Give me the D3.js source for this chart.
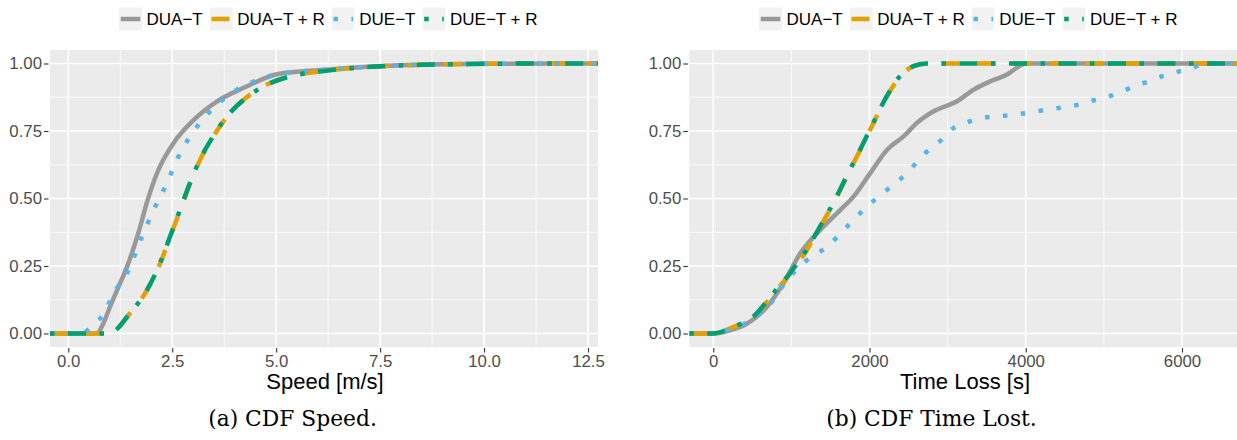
<!DOCTYPE html>
<html>
<head>
<meta charset="utf-8">
<script src="https://cdn.jsdelivr.net/npm/d3@7"></script>
<style>
  html, body { margin: 0; padding: 0; background: #ffffff; }
  svg { display: block; }
</style>
</head>
<body>
<svg id="chart" width="1237" height="440"></svg>
<script>
// ---------------- data ----------------
const seriesNames = ["DUA\u2212T", "DUA\u2212T + R", "DUE\u2212T", "DUE\u2212T + R"];
const yTickValues = [0, 0.25, 0.5, 0.75, 1];
const yTickLabels = ["0.00", "0.25", "0.50", "0.75", "1.00"];
const speedTickValues = [0, 2.5, 5, 7.5, 10, 12.5];
const speedTickLabels = ["0.0", "2.5", "5.0", "7.5", "10.0", "12.5"];
const timeTickValues = [0, 2000, 4000, 6000];
const timeTickLabels = ["0", "2000", "4000", "6000"];

// CDF of speed [m/s]: [value, cumulative fraction]
const speedDUAT = [[0.68,0],[0.84,0.036],[1.0,0.098],[1.2,0.17],[1.41,0.246],[1.7,0.38],[1.9,0.49],[2.15,0.6],[2.53,0.705],[3.01,0.79],[3.58,0.86],[4.22,0.91],[5.02,0.96],[6.0,0.975],[7.5,0.99],[9.0,0.997],[10.5,0.999],[12.16,1]];
const speedDUATR = [[1.02,0],[1.2,0.02],[1.41,0.061],[1.89,0.16],[2.21,0.26],[2.45,0.358],[2.69,0.457],[2.93,0.556],[3.17,0.643],[3.49,0.73],[3.82,0.804],[4.22,0.866],[4.70,0.916],[5.34,0.953],[6.07,0.971],[7.51,0.99],[8.8,0.996],[10.0,0.999],[12.1,1]];
const speedDUET = [[0.36,0],[0.45,0.01],[0.68,0.042],[0.88,0.079],[1.08,0.147],[1.41,0.222],[1.77,0.358],[2.05,0.457],[2.37,0.556],[2.61,0.643],[2.93,0.73],[3.33,0.81],[3.82,0.879],[4.38,0.928],[5.02,0.96],[6.0,0.975],[7.5,0.99],[9.0,0.997],[10.5,0.999],[12.0,1]];
const speedDUETR = [[1.0,0],[1.18,0.018],[1.42,0.063],[1.88,0.158],[2.2,0.258],[2.44,0.356],[2.68,0.455],[2.92,0.555],[3.16,0.642],[3.48,0.729],[3.81,0.803],[4.21,0.865],[4.69,0.915],[5.33,0.952],[6.05,0.97],[7.5,0.99],[8.8,0.996],[10.0,0.999],[12.05,1]];

// CDF of time loss [s]
const timeDUAT = [[0,0],[256,0.015],[428,0.036],[684,0.098],[897,0.185],[1111,0.296],[1368,0.383],[1624,0.457],[1795,0.507],[2009,0.594],[2223,0.68],[2436,0.73],[2607,0.78],[2821,0.823],[3120,0.86],[3333,0.903],[3547,0.934],[3761,0.959],[3953,0.996],[4000,1]];
const timeDUATR = [[0,0],[256,0.024],[513,0.061],[769,0.147],[983,0.222],[1197,0.309],[1368,0.395],[1538,0.482],[1709,0.581],[1881,0.68],[2051,0.78],[2223,0.878],[2394,0.953],[2564,0.99],[2736,1]];
const timeDUET = [[0,0],[171,0.012],[470,0.048],[727,0.11],[941,0.197],[1197,0.271],[1454,0.321],[1710,0.395],[1967,0.47],[2223,0.532],[2479,0.594],[2692,0.662],[2949,0.725],[3077,0.761],[3249,0.782],[3419,0.798],[3633,0.804],[3846,0.81],[4060,0.819],[4274,0.829],[4487,0.838],[4679,0.848],[4872,0.864],[5064,0.878],[5235,0.897],[5406,0.918],[5577,0.934],[5749,0.953],[5941,0.969],[6133,0.984],[6304,1]];
const timeDUETR = [[0,0],[250,0.024],[510,0.062],[765,0.148],[980,0.223],[1195,0.31],[1366,0.396],[1536,0.483],[1707,0.582],[1879,0.681],[2049,0.781],[2221,0.879],[2392,0.954],[2562,0.99],[2730,1]];

// ---------------- drawing ----------------
const colors = ["#999999", "#E69F00", "#56B4E9", "#009E73"];
const LW = 4.5;
const dashes = [null, [4,4], [1,3], [1,3,4,3]].map(p => p ? p.map(v => v * LW).join(",") : null);

const svg = d3.select("#chart");
const FONT = "'Liberation Sans', Arial, Helvetica, sans-serif";

function drawPanel(cfg) {
  const x = d3.scaleLinear().domain(cfg.xDomain).range([cfg.left, cfg.right]);
  const y = d3.scaleLinear().domain([-0.05, 1.05]).range([347, 50]);
  const g = svg.append("g");

  g.append("rect").attr("x", cfg.left).attr("y", 50)
    .attr("width", cfg.right - cfg.left).attr("height", 297).attr("fill", "#EBEBEB");

  // minor grid
  cfg.xMinor.forEach(v => g.append("line").attr("x1", x(v)).attr("x2", x(v))
    .attr("y1", 50).attr("y2", 347).attr("stroke", "#fff").attr("stroke-width", 0.8));
  [0.125, 0.375, 0.625, 0.875].forEach(v => g.append("line").attr("x1", cfg.left).attr("x2", cfg.right)
    .attr("y1", y(v)).attr("y2", y(v)).attr("stroke", "#fff").attr("stroke-width", 0.8));
  // major grid
  cfg.xTicks.forEach(v => g.append("line").attr("x1", x(v)).attr("x2", x(v))
    .attr("y1", 50).attr("y2", 347).attr("stroke", "#fff").attr("stroke-width", 1.6));
  yTickValues.forEach(v => g.append("line").attr("x1", cfg.left).attr("x2", cfg.right)
    .attr("y1", y(v)).attr("y2", y(v)).attr("stroke", "#fff").attr("stroke-width", 1.6));

  // clip
  const clipId = "clip" + cfg.id;
  svg.append("clipPath").attr("id", clipId).append("rect")
    .attr("x", cfg.left).attr("y", 50).attr("width", cfg.right - cfg.left).attr("height", 297);

  const line = d3.line().x(d => x(d[0])).y(d => y(d[1])).curve(d3.curveMonotoneX);
  const dom = x.domain();
  cfg.series.forEach((s, i) => {
    const pts = [[dom[0], 0]].concat(s, [[dom[1], 1]]);
    const p = g.append("path").attr("clip-path", `url(#${clipId})`)
      .attr("d", line(pts)).attr("fill", "none")
      .attr("stroke", colors[i]).attr("stroke-width", LW)
      .attr("stroke-linecap", "butt").attr("stroke-linejoin", "round");
    if (dashes[i]) p.attr("stroke-dasharray", dashes[i]);
  });

  // axes
  const yAxis = d3.axisLeft(y).tickValues(yTickValues).tickFormat((d, i) => yTickLabels[i])
    .tickSizeInner(4.5).tickSizeOuter(0).tickPadding(2);
  const ya = g.append("g").attr("transform", `translate(${cfg.left - 1.5},0)`).call(yAxis);
  const xAxis = d3.axisBottom(x).tickValues(cfg.xTicks).tickFormat((d, i) => cfg.xLabels[i])
    .tickSizeInner(4.5).tickSizeOuter(0).tickPadding(3);
  const xa = g.append("g").attr("transform", `translate(0,${347 + 1})`).call(xAxis);
  [ya, xa].forEach(a => {
    a.select(".domain").remove();
    a.selectAll(".tick line").attr("stroke", "#333333").attr("stroke-width", 1.1);
    a.selectAll(".tick text").attr("fill", "#4D4D4D").style("font-family", FONT).style("font-size", "16.8px");
  });
  xa.selectAll(".tick text").attr("dy", "0.71em");

  // axis title
  g.append("text").attr("x", cfg.titleX).attr("y", 389).attr("text-anchor", "middle")
    .style("font-family", FONT).style("font-size", "22px").attr("fill", "#000").text(cfg.title);

  // caption
  g.append("text").attr("x", cfg.capX).attr("y", 425.5).attr("text-anchor", "middle")
    .style("font-family", "'DejaVu Serif', serif").style("font-size", "21.8px").attr("fill", "#000").text(cfg.caption);

  // legend
  let lx = cfg.legendX;
  const keyW = 23, keyH = 23, keyY = 7.5;
  seriesNames.forEach((name, i) => {
    g.append("rect").attr("x", lx).attr("y", keyY).attr("width", keyW).attr("height", keyH).attr("fill", "#F2F2F2");
    const kl = g.append("line").attr("x1", lx + 1.7).attr("x2", lx + keyW - 1.7)
      .attr("y1", keyY + keyH / 2).attr("y2", keyY + keyH / 2)
      .attr("stroke", colors[i]).attr("stroke-width", LW).attr("stroke-linecap", "butt");
    if (dashes[i]) kl.attr("stroke-dasharray", dashes[i]);
    const t = g.append("text").attr("x", lx + keyW + 4.5).attr("y", keyY + keyH / 2).attr("dy", "0.36em")
      .style("font-family", FONT).style("font-size", "17px").attr("fill", "#000").text(name);
    lx += keyW + 4.5 + t.node().getComputedTextLength() + 7;
  });
}

drawPanel({
  id: "a", left: 50, right: 598, xDomain: [-0.44, 12.74],
  xTicks: speedTickValues, xLabels: speedTickLabels, xMinor: [1.25, 3.75, 6.25, 8.75, 11.25],
  series: [speedDUAT, speedDUATR, speedDUET, speedDUETR],
  title: "Speed [m/s]", titleX: 325, caption: "(a) CDF Speed.", capX: 292.5, legendX: 119
});
drawPanel({
  id: "b", left: 689.3, right: 1237, xDomain: [-307, 6704],
  xTicks: timeTickValues, xLabels: timeTickLabels, xMinor: [1000, 3000, 5000],
  series: [timeDUAT, timeDUATR, timeDUET, timeDUETR],
  title: "Time Loss [s]", titleX: 965, caption: "(b) CDF Time Lost.", capX: 931.5, legendX: 759
});
</script>
</body>
</html>
